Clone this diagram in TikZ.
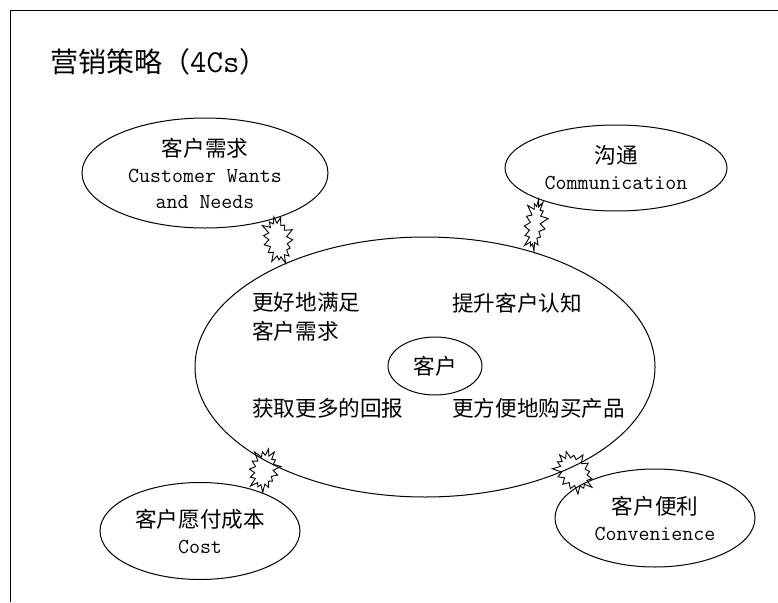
\documentclass[tikz,border=0pt]{standalone}
\usepackage{fontspec}
\newfontfamily\cjk{Noto Sans CJK SC}
\usetikzlibrary{shapes.geometric,shapes.symbols}
\begin{document}
\begin{tikzpicture}[x=1pt,y=-1pt,
  oval/.style={ellipse,draw,line width=1pt,inner sep=0pt,align=center,
    font=\fontsize{21.3}{26}\selectfont\ttfamily},
  zh/.style={font=\cjk\fontsize{21.6}{29}\selectfont},
  burst/.style={starburst,draw,line width=0.9pt,inner sep=0pt,
    starburst point height=9pt,starburst points=15}
]
\useasboundingbox (0,0) rectangle (778,602);
\draw[line width=1pt] (10.5,602) -- (10.5,10.5) -- (778,10.5);

\node[anchor=west,inner sep=0pt] (title) at (50,62)
  {\cjk\fontsize{28}{30}\selectfont 营销策略（{\ttfamily\fontsize{32}{30}\selectfont 4Cs}）};

\node[oval,minimum width=246pt,minimum height=110pt] (cw) at (205,173)
  {{\cjk\fontsize{21.6}{26}\selectfont 客户需求}\\Customer Wants\\and Needs};
\node[oval,minimum width=222pt,minimum height=86pt] (com) at (616,168)
  {{\cjk\fontsize{21.6}{28}\selectfont 沟通}\\Communication};
\node[oval,minimum width=200pt,minimum height=97pt] (cost) at (200,531)
  {{\cjk\fontsize{21.6}{27}\selectfont 客户愿付成本}\\Cost};
\node[oval,minimum width=200pt,minimum height=98pt] (conv) at (655,518)
  {{\cjk\fontsize{21.6}{28}\selectfont 客户便利}\\Convenience};

\node[ellipse,draw,line width=1pt,minimum width=460pt,minimum height=260pt] (big) at (425,367) {};
\node[ellipse,draw,line width=1pt,minimum width=94pt,minimum height=58pt,inner sep=0pt,zh] (cust) at (435,366) {客户};

\node[zh,anchor=west,inner sep=0pt,align=left] (t1) at (252,317) {更好地满足\\客户需求};
\node[zh,anchor=west,inner sep=0pt] (t2) at (452,303) {提升客户认知};
\node[zh,anchor=west,inner sep=0pt] (t3) at (252,408) {获取更多的回报};
\node[zh,anchor=west,inner sep=0pt] (t4) at (452,408) {更方便地购买产品};

\node[burst,minimum width=36pt,minimum height=52pt,rotate=10] (b1) at (278,240) {};
\node[burst,minimum width=28pt,minimum height=56pt,rotate=-8] (b2) at (535,225) {};
\node[burst,minimum width=36pt,minimum height=48pt,rotate=-12] (b3) at (264,470) {};
\node[burst,minimum width=40pt,minimum height=50pt,rotate=40] (b4) at (574,472) {};
\end{tikzpicture}
\end{document}
